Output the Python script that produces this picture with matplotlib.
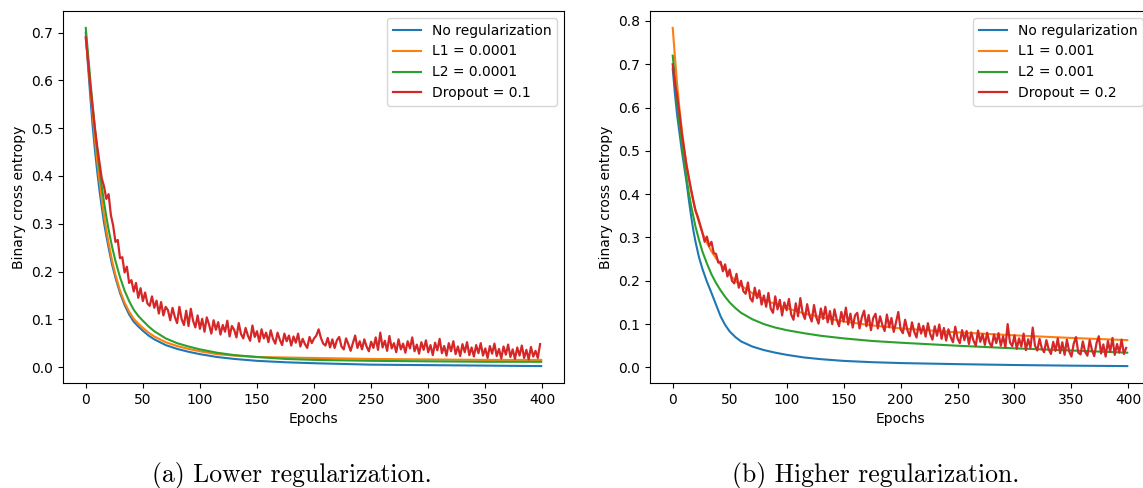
import matplotlib
matplotlib.use("Agg")
import matplotlib.pyplot as plt

# ---------------- data ----------------
smooth_epochs = [0, 2, 4, 6, 8, 10, 12, 14, 16, 18, 20, 23, 26, 30, 34, 38, 42, 46, 50, 55,
                 60, 70, 80, 90, 100, 115, 130, 150, 175, 200, 250, 300, 350, 399]
noisy_epochs = list(range(0, 400, 2))

# (a) lower regularization
a_none = [0.700, 0.630, 0.565, 0.505, 0.455, 0.410, 0.370, 0.335, 0.302, 0.275, 0.250, 0.215,
          0.187, 0.155, 0.130, 0.110, 0.095, 0.085, 0.076, 0.066, 0.058, 0.046, 0.038, 0.032,
          0.027, 0.021, 0.017, 0.013, 0.010, 0.008, 0.005, 0.004, 0.003, 0.002]
a_l1 = [0.690, 0.640, 0.585, 0.530, 0.478, 0.432, 0.390, 0.352, 0.318, 0.287, 0.260, 0.223,
        0.193, 0.160, 0.135, 0.116, 0.101, 0.091, 0.082, 0.072, 0.064, 0.052, 0.044, 0.038,
        0.033, 0.027, 0.024, 0.021, 0.020, 0.019, 0.017, 0.016, 0.015, 0.015]
a_l2 = [0.710, 0.655, 0.600, 0.548, 0.500, 0.455, 0.415, 0.378, 0.345, 0.315, 0.288, 0.252,
        0.222, 0.188, 0.160, 0.138, 0.120, 0.107, 0.097, 0.085, 0.075, 0.060, 0.050, 0.043,
        0.037, 0.030, 0.025, 0.021, 0.017, 0.015, 0.013, 0.012, 0.011, 0.011]
a_drop = [0.690, 0.640, 0.588, 0.545, 0.500, 0.462, 0.428, 0.395, 0.378, 0.352,
          0.362, 0.318, 0.296, 0.262, 0.266, 0.228, 0.230, 0.198, 0.210, 0.176,
          0.182, 0.158, 0.176, 0.145, 0.165, 0.138, 0.156, 0.133, 0.128, 0.148,
          0.124, 0.139, 0.112, 0.136, 0.108, 0.126, 0.119, 0.098, 0.124, 0.105,
          0.092, 0.126, 0.100, 0.088, 0.118, 0.086, 0.122, 0.097, 0.083, 0.108,
          0.080, 0.101, 0.074, 0.104, 0.089, 0.070, 0.098, 0.078, 0.094, 0.068,
          0.088, 0.074, 0.097, 0.064, 0.086, 0.078, 0.062, 0.092, 0.069, 0.060,
          0.082, 0.066, 0.055, 0.087, 0.063, 0.075, 0.053, 0.079, 0.060, 0.072,
          0.052, 0.077, 0.059, 0.049, 0.072, 0.057, 0.046, 0.070, 0.054, 0.066,
          0.045, 0.064, 0.051, 0.070, 0.043, 0.059, 0.048, 0.040, 0.063, 0.050,
          0.060, 0.066, 0.079, 0.061, 0.049, 0.045, 0.061, 0.041, 0.058, 0.040,
          0.056, 0.063, 0.043, 0.037, 0.060, 0.048, 0.034, 0.050, 0.066, 0.040,
          0.054, 0.037, 0.058, 0.043, 0.033, 0.053, 0.040, 0.062, 0.036, 0.072,
          0.041, 0.055, 0.034, 0.065, 0.039, 0.050, 0.031, 0.058, 0.037, 0.049,
          0.030, 0.054, 0.039, 0.062, 0.033, 0.047, 0.028, 0.052, 0.036, 0.056,
          0.031, 0.046, 0.025, 0.051, 0.035, 0.059, 0.029, 0.044, 0.024, 0.050,
          0.033, 0.054, 0.027, 0.043, 0.023, 0.048, 0.031, 0.052, 0.025, 0.041,
          0.022, 0.046, 0.029, 0.050, 0.024, 0.039, 0.019, 0.044, 0.028, 0.049,
          0.023, 0.038, 0.018, 0.043, 0.026, 0.047, 0.021, 0.037, 0.017, 0.041,
          0.024, 0.045, 0.019, 0.036, 0.016, 0.042, 0.022, 0.034, 0.019, 0.048]

# (b) higher regularization
b_none = [0.690, 0.630, 0.580, 0.540, 0.500, 0.465, 0.430, 0.390, 0.352, 0.318, 0.290, 0.255,
          0.228, 0.198, 0.172, 0.145, 0.118, 0.098, 0.083, 0.070, 0.060, 0.048, 0.040, 0.034,
          0.029, 0.023, 0.019, 0.015, 0.012, 0.010, 0.0075, 0.0055, 0.004, 0.003]
b_l1 = [0.784, 0.715, 0.650, 0.595, 0.548, 0.505, 0.470, 0.438, 0.410, 0.385, 0.362, 0.335,
        0.310, 0.288, 0.268, 0.252, 0.238, 0.226, 0.214, 0.200, 0.189, 0.171, 0.157, 0.146,
        0.137, 0.125, 0.116, 0.106, 0.097, 0.090, 0.081, 0.074, 0.068, 0.063]
b_l2 = [0.720, 0.665, 0.610, 0.560, 0.515, 0.475, 0.440, 0.405, 0.375, 0.350, 0.325, 0.295,
        0.268, 0.240, 0.215, 0.195, 0.178, 0.163, 0.150, 0.137, 0.126, 0.111, 0.100, 0.092,
        0.086, 0.079, 0.073, 0.067, 0.061, 0.057, 0.050, 0.044, 0.039, 0.034]
b_drop = [0.700, 0.655, 0.625, 0.585, 0.540, 0.505, 0.468, 0.440, 0.412, 0.386,
          0.362, 0.348, 0.330, 0.312, 0.290, 0.302, 0.280, 0.290, 0.264, 0.262,
          0.242, 0.244, 0.222, 0.238, 0.210, 0.226, 0.200, 0.194, 0.216, 0.184,
          0.200, 0.176, 0.170, 0.196, 0.160, 0.152, 0.184, 0.160, 0.178, 0.145,
          0.166, 0.140, 0.172, 0.136, 0.126, 0.164, 0.134, 0.156, 0.120, 0.150,
          0.132, 0.158, 0.122, 0.110, 0.148, 0.118, 0.160, 0.126, 0.112, 0.146,
          0.120, 0.106, 0.144, 0.116, 0.101, 0.136, 0.112, 0.140, 0.104, 0.130,
          0.100, 0.134, 0.110, 0.095, 0.128, 0.106, 0.138, 0.099, 0.124, 0.092,
          0.120, 0.126, 0.090, 0.116, 0.131, 0.095, 0.121, 0.086, 0.114, 0.124,
          0.090, 0.118, 0.098, 0.084, 0.122, 0.093, 0.114, 0.082, 0.104, 0.128,
          0.088, 0.079, 0.110, 0.086, 0.072, 0.104, 0.082, 0.069, 0.101, 0.078,
          0.096, 0.071, 0.102, 0.077, 0.064, 0.095, 0.073, 0.099, 0.066, 0.091,
          0.062, 0.088, 0.070, 0.058, 0.094, 0.067, 0.056, 0.086, 0.063, 0.084,
          0.054, 0.081, 0.062, 0.050, 0.085, 0.059, 0.077, 0.052, 0.080, 0.057,
          0.048, 0.076, 0.056, 0.079, 0.050, 0.072, 0.046, 0.100, 0.058, 0.049,
          0.074, 0.043, 0.067, 0.048, 0.078, 0.040, 0.065, 0.045, 0.092, 0.050,
          0.039, 0.066, 0.044, 0.035, 0.063, 0.042, 0.031, 0.059, 0.038, 0.067,
          0.033, 0.058, 0.029, 0.064, 0.037, 0.025, 0.055, 0.070, 0.034, 0.030,
          0.060, 0.036, 0.027, 0.063, 0.040, 0.026, 0.056, 0.072, 0.032, 0.053,
          0.025, 0.061, 0.036, 0.068, 0.029, 0.054, 0.034, 0.064, 0.031, 0.045]

labels_a = ["No regularization", "L1 = 0.0001", "L2 = 0.0001", "Dropout = 0.1"]
labels_b = ["No regularization", "L1 = 0.001", "L2 = 0.001", "Dropout = 0.2"]
captions = ["(a) Lower regularization.", "(b) Higher regularization."]
colors = ["#1f77b4", "#ff7f0e", "#2ca02c", "#d62728"]

# ---------------- figure ----------------
W, H = 1143, 488
fig = plt.figure(figsize=(W / 100, H / 100), dpi=100)

ax_a = fig.add_axes([63 / W, 105 / H, 501 / W, 372 / H])
ax_b = fig.add_axes([650 / W, 105 / H, 500 / W, 372 / H])

for ax, series, labels in [
    (ax_a, [a_none, a_l1, a_l2, a_drop], labels_a),
    (ax_b, [b_none, b_l1, b_l2, b_drop], labels_b),
]:
    for i in range(3):
        ax.plot(smooth_epochs, series[i], color=colors[i], lw=1.5, label=labels[i])
    ax.plot(noisy_epochs, series[3], color=colors[3], lw=1.6, label=labels[3])
    ax.set_xlabel("Epochs", fontsize=10)
    ax.set_ylabel("Binary cross entropy", fontsize=10)
    ax.set_xticks([0, 50, 100, 150, 200, 250, 300, 350, 400])
    ax.tick_params(labelsize=10)
    ax.legend(loc="upper right", fontsize=10)

ax_a.set_yticks([0.0, 0.1, 0.2, 0.3, 0.4, 0.5, 0.6, 0.7])
ax_b.set_yticks([0.0, 0.1, 0.2, 0.3, 0.4, 0.5, 0.6, 0.7, 0.8])

fig.text(292 / W, 6 / H, captions[0], fontfamily="cmr10", fontsize=18.5,
         ha="center", va="baseline")
fig.text(876 / W, 6 / H, captions[1], fontfamily="cmr10", fontsize=18.5,
         ha="center", va="baseline")

fig.savefig("out.png", dpi=100)
